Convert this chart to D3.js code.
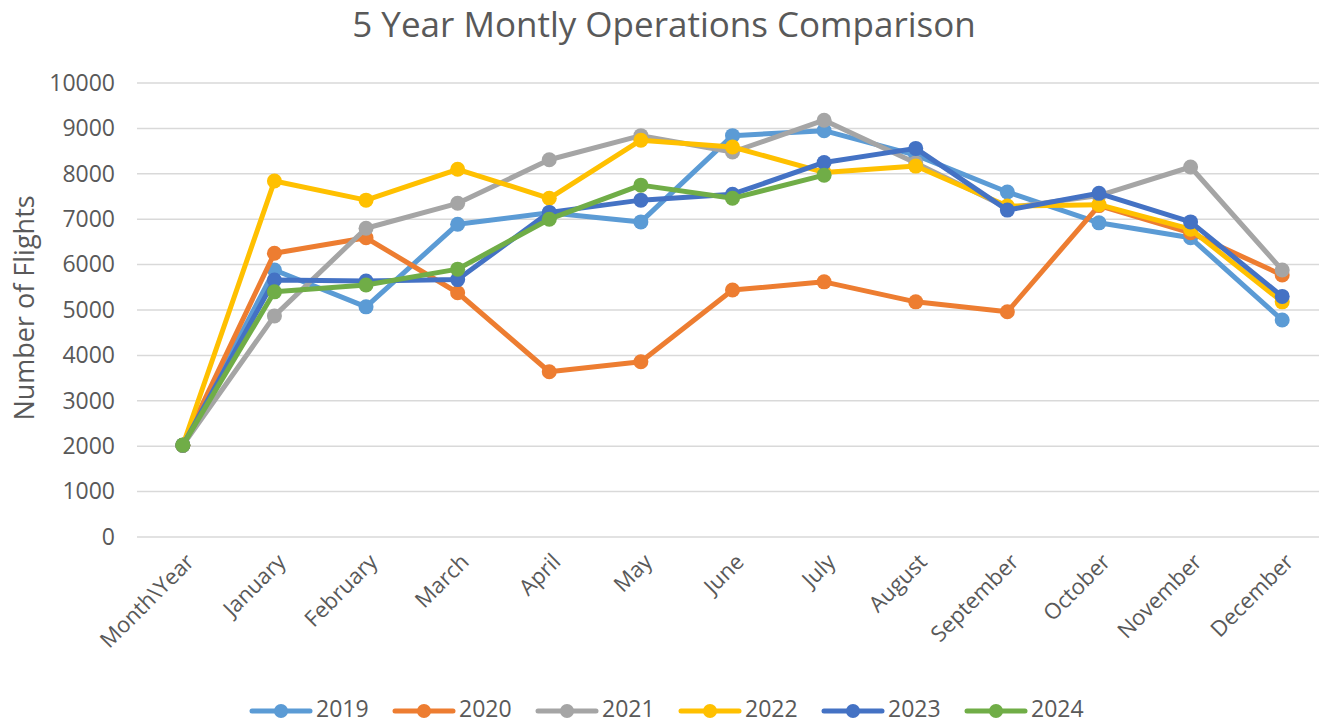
<!DOCTYPE html>
<html>
<head>
<meta charset="utf-8">
<script src="https://cdn.jsdelivr.net/npm/d3@7"></script>
<style>
  html, body { margin: 0; padding: 0; background: #fff; }
  svg { display: block; }
  text { font-family: "Open Sans", "Liberation Sans", sans-serif; fill: #595959; }
</style>
</head>
<body>
<svg id="chart" width="1319" height="724"></svg>
<script>
const categories = ["Month\\Year", "January", "February", "March", "April", "May", "June", "July", "August", "September", "October", "November", "December"];
const seriesNames = ["2019", "2020", "2021", "2022", "2023", "2024"];
const s2019 = [2019, 5880, 5070, 6890, 7140, 6940, 8840, 8950, 8410, 7600, 6920, 6590, 4780];
const s2020 = [2020, 6250, 6590, 5380, 3640, 3860, 5440, 5620, 5180, 4960, 7300, 6700, 5770];
const s2021 = [2021, 4870, 6800, 7350, 8310, 8840, 8480, 9180, 8240, 7250, 7520, 8150, 5880];
const s2022 = [2022, 7840, 7420, 8100, 7460, 8740, 8590, 8030, 8170, 7290, 7320, 6780, 5180];
const s2023 = [2023, 5660, 5640, 5670, 7150, 7420, 7550, 8250, 8560, 7200, 7570, 6940, 5300];
const s2024 = [2024, 5400, 5550, 5900, 7000, 7750, 7460, 7970, null, null, null, null, null];
const yTicks = [0, 1000, 2000, 3000, 4000, 5000, 6000, 7000, 8000, 9000, 10000];
const colors = ["#5B9BD5", "#ED7D31", "#A5A5A5", "#FFC000", "#4472C4", "#70AD47"];
const title = "5 Year Montly Operations Comparison";
const yTitle = "Number of Flights";

const allSeries = [s2019, s2020, s2021, s2022, s2023, s2024];

const svg = d3.select("#chart");
const plotLeft = 137, plotRight = 1328, plotTop = 83, plotBottom = 537;

const x = d3.scalePoint().domain(categories).range([plotLeft, plotRight]).padding(0.5);
const y = d3.scaleLinear().domain([0, 10000]).range([plotBottom, plotTop]);

// Title
svg.append("text")
  .attr("x", 664).attr("y", 37)
  .attr("text-anchor", "middle")
  .attr("font-size", 35)
  .text(title);

// Gridlines
svg.append("g")
  .selectAll("line")
  .data(yTicks)
  .join("line")
  .attr("x1", plotLeft).attr("x2", plotRight)
  .attr("y1", d => y(d)).attr("y2", d => y(d))
  .attr("stroke", "#d9d9d9").attr("stroke-width", 1.5);

// Y axis labels
const yAxis = d3.axisLeft(y).tickValues(yTicks).tickSize(0).tickPadding(0).tickFormat(d3.format("d"));
const ya = svg.append("g").attr("transform", `translate(115,0)`).call(yAxis);
ya.select(".domain").remove();
ya.selectAll("text").attr("font-size", 23).attr("fill", "#595959").attr("font-family", "Open Sans, sans-serif");

// Y title
svg.append("text")
  .attr("transform", `translate(27,${(plotTop + plotBottom) / 2 - 2}) rotate(-90)`)
  .attr("text-anchor", "middle")
  .attr("dominant-baseline", "middle")
  .attr("font-size", 27)
  .text(yTitle);

// X axis labels
const xAxis = d3.axisBottom(x).tickSize(0).tickPadding(0);
const xa = svg.append("g").attr("transform", `translate(0,${plotBottom})`).call(xAxis);
xa.select(".domain").remove();
xa.selectAll("text")
  .attr("font-size", 22)
  .attr("fill", "#595959")
  .attr("font-family", "Open Sans, sans-serif")
  .attr("text-anchor", "end")
  .attr("dy", null)
  .attr("y", null)
  .attr("transform", "translate(8,22) rotate(-45)")
  .attr("dominant-baseline", "middle");

// Lines
const line = d3.line()
  .defined(d => d != null)
  .x((d, i) => x(categories[i]))
  .y(d => y(d));

allSeries.forEach((s, k) => {
  svg.append("path")
    .datum(s)
    .attr("d", line)
    .attr("fill", "none")
    .attr("stroke", colors[k])
    .attr("stroke-width", 5)
    .attr("stroke-linejoin", "round")
    .attr("stroke-linecap", "round");
  svg.append("g")
    .selectAll("circle")
    .data(s.map((v, i) => ({ v, i })).filter(d => d.v != null))
    .join("circle")
    .attr("cx", d => x(categories[d.i]))
    .attr("cy", d => y(d.v))
    .attr("r", 7.5)
    .attr("fill", colors[k]);
});

// Legend
const legendX0 = 252, legendStep = 143, legendY = 711;
const lg = svg.append("g");
seriesNames.forEach((name, k) => {
  const gx = legendX0 + k * legendStep;
  lg.append("line")
    .attr("x1", gx).attr("x2", gx + 58)
    .attr("y1", legendY).attr("y2", legendY)
    .attr("stroke", colors[k]).attr("stroke-width", 5).attr("stroke-linecap", "round");
  lg.append("circle")
    .attr("cx", gx + 29).attr("cy", legendY).attr("r", 7).attr("fill", colors[k]);
  lg.append("text")
    .attr("x", gx + 64).attr("y", legendY)
    .attr("dominant-baseline", "middle")
    .attr("font-size", 23)
    .text(name);
});
</script>
</body>
</html>
